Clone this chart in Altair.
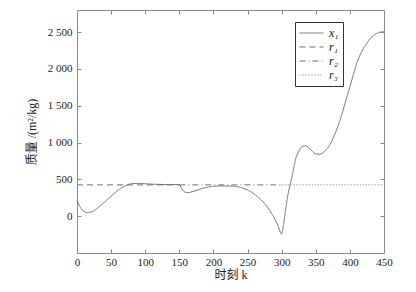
import altair as alt
import pandas as pd

# ---- data ----
k_x1 = [0, 5, 10, 15, 20, 25, 30, 40, 50, 60, 70, 80, 90, 100, 110, 120, 130, 140, 150,
        153, 157, 162, 170, 180, 190, 200, 210, 220, 230, 240, 250, 260, 270, 280, 290,
        295, 300, 303, 306, 310, 313, 317, 320, 325, 330, 335, 340, 345, 350, 355, 360,
        365, 370, 375, 380, 385, 390, 395, 400, 405, 410, 415, 420, 425, 430, 435, 440,
        445, 450]
v_x1 = [215, 120, 65, 50, 55, 75, 110, 190, 270, 350, 410, 440, 445, 440, 435, 432, 430, 430, 428,
        380, 335, 320, 335, 365, 390, 405, 410, 410, 405, 390, 355, 300, 220, 110, -40,
        -140, -240, -100, 100, 330, 450, 620, 760, 880, 945, 955, 925, 880, 845, 840, 860,
        900, 960, 1050, 1160, 1290, 1440, 1600, 1760, 1920, 2077, 2190, 2280, 2350, 2415, 2455, 2485,
        2500, 2505]
r_value = 425
r1_k = [0, 150]
r2_k = [150, 300]
r3_k = [300, 450]
series_names = ["x₁", "r₁", "r₂", "r₃"]
x_ticks = [0, 50, 100, 150, 200, 250, 300, 350, 400, 450]
y_ticks = [0, 500, 1000, 1500, 2000, 2500]

rows = [{"k": k, "v": v, "s": "x₁"} for k, v in zip(k_x1, v_x1)]
for name, ks in zip(series_names[1:], [r1_k, r2_k, r3_k]):
    rows += [{"k": k, "v": r_value, "s": name} for k in ks]
df = pd.DataFrame(rows)

FONT = "Liberation Serif, Noto Sans CJK SC"
AX = "#8a8a8a"


def xs():
    return alt.Scale(domain=[0, 450], nice=False, zero=False)


def ys():
    return alt.Scale(domain=[-500, 2800], nice=False, zero=False)


axis_style = dict(labelFont=FONT, labelFontSize=11, labelColor="#222222",
                  titleFont=FONT, titleFontSize=12, titleFontWeight="normal",
                  titleColor="#222222", tickColor=AX, grid=False, domain=False,
                  tickSize=4, offset=-4, labelFlush=False, labelOverlap=False)

lines = alt.Chart(df).mark_line(color="#707070", strokeWidth=1, interpolate="monotone").encode(
    x=alt.X("k:Q", scale=xs(), axis=alt.Axis(
        orient="bottom", values=x_ticks, title="时刻 k", labelPadding=3,
        titlePadding=2, **axis_style)),
    y=alt.Y("v:Q", scale=ys(), axis=alt.Axis(
        orient="left", values=y_ticks, title="质量 /(m²/kg)", labelPadding=5,
        titlePadding=9, labelExpr="replace(format(datum.value, ','), ',', ' ')",
        **axis_style)),
    strokeDash=alt.StrokeDash("s:N", scale=alt.Scale(
        domain=series_names, range=[[1, 0], [6, 4], [6, 3, 1, 3], [1, 2]]),
        legend=alt.Legend(title=None, orient="none", legendX=218, legendY=12,
                          symbolType="stroke", symbolSize=576, symbolStrokeWidth=1,
                          symbolStrokeColor="#707070", clipHeight=14, rowPadding=0,
                          padding=4, strokeColor="#333333", fillColor="white",
                          labelFont="Liberation Serif", labelFontStyle="italic",
                          labelFontSize=12, labelOffset=5, labelColor="#111111")),
)

frame = alt.Chart(df).mark_point(opacity=0).encode(
    x=alt.X("k:Q", scale=xs(), axis=alt.Axis(
        orient="top", values=x_ticks, labels=False, title="", **axis_style)),
    y=alt.Y("v:Q", scale=ys(), axis=alt.Axis(
        orient="right", values=y_ticks, labels=False, title="", **axis_style)),
)

chart = alt.layer(lines, frame).resolve_scale(
    x="independent", y="independent"
).properties(
    width=307, height=243, autosize="none", background="white",
    padding={"left": 77, "top": 10, "right": 32, "bottom": 39},
).configure_view(stroke=AX, strokeWidth=1)

chart.save("out.html", embed_options={"renderer": "svg", "actions": False})
